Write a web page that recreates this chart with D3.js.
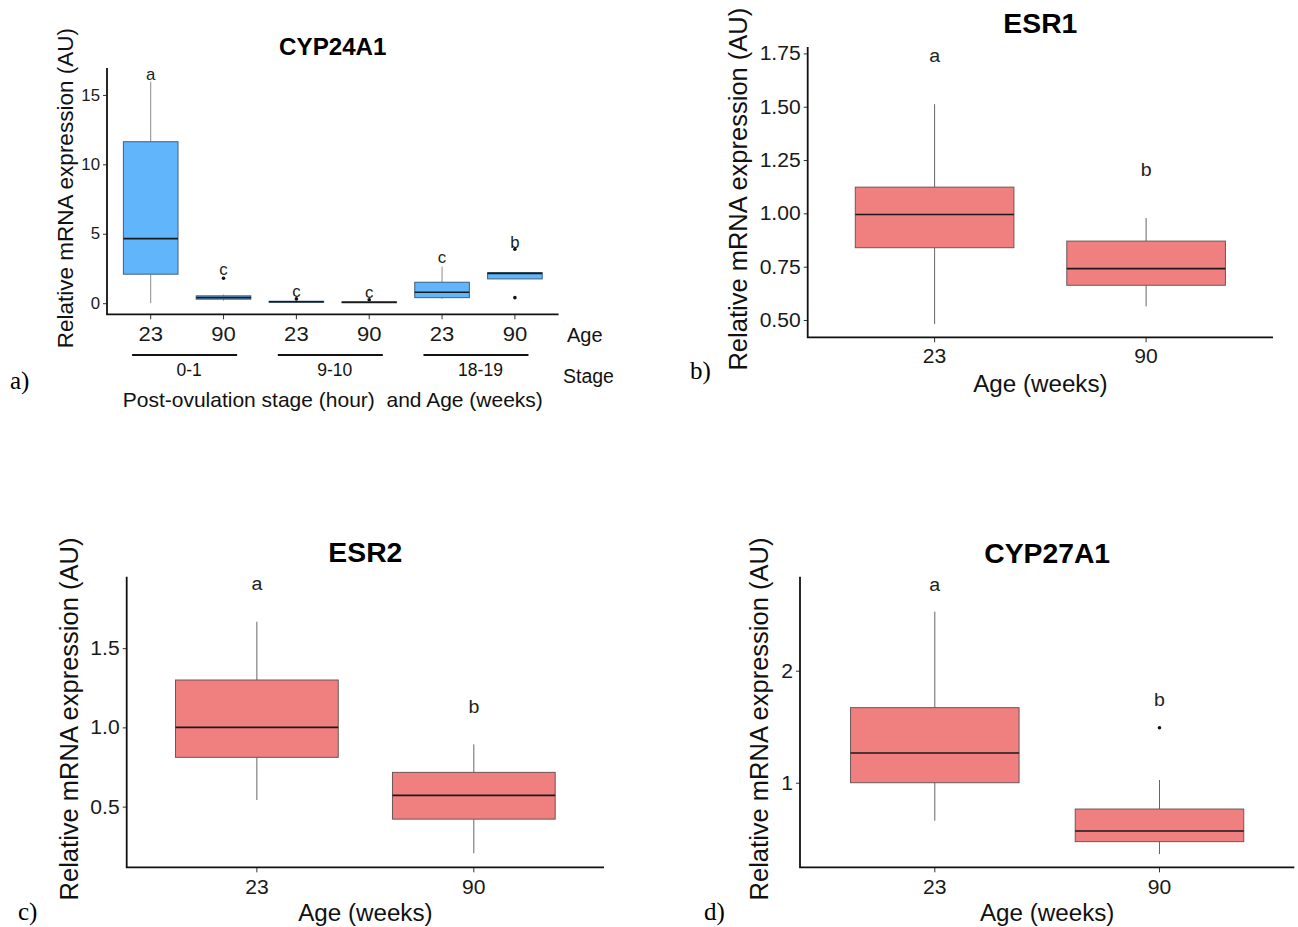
<!DOCTYPE html>
<html><head><meta charset="utf-8">
<script src="https://cdn.jsdelivr.net/npm/d3@7"></script>
<style>
body{margin:0;background:#fff}
svg{display:block}
text{font-family:Arial,"Liberation Sans",Helvetica,sans-serif}
</style>
</head><body>
<svg id="fig" width="1298" height="927"></svg>
<script>
// ---------- Panel a : CYP24A1 ----------
const cypA_ages = ["23","90","23","90","23","90"];
const cypA_stageOf = ["0-1","0-1","9-10","9-10","18-19","18-19"];
const cypA_stageLabels = ["0-1","9-10","18-19"];
const cypA_whiskerLow  = [0.00, 0.18, 0.05, 0.03, 0.31, 1.73];
const cypA_q1          = [2.09, 0.29, 0.08, 0.04, 0.40, 1.75];
const cypA_median      = [4.65, 0.40, 0.10, 0.07, 0.79, 2.15];
const cypA_q3          = [11.63, 0.53, 0.14, 0.10, 1.51, 2.20];
const cypA_whiskerHigh = [15.95, 0.62, 0.17, 0.12, 2.64, 2.22];
const cypA_outliers    = [[], [1.80], [0.31], [0.25], [], [3.89, 0.40]];
const cypA_letters     = ["a","c","c","c","c","b"];
const cypA_letterAt    = [16.08, 2.04, 0.45, 0.38, 2.88, 3.96];
const cypA_yTicks      = [0, 5, 10, 15];
const cypA_yDomain     = [-0.8, 16.94];

// ---------- Panel b : ESR1 ----------
const esr1_ages        = ["23","90"];
const esr1_whiskerLow  = [0.481, 0.564];
const esr1_q1          = [0.839, 0.663];
const esr1_median      = [0.995, 0.741];
const esr1_q3          = [1.123, 0.870];
const esr1_whiskerHigh = [1.512, 0.978];
const esr1_outliers    = [[], []];
const esr1_letters     = ["a","b"];
const esr1_letterAt    = [1.709, 1.173];
const esr1_yTicks      = [0.50, 0.75, 1.00, 1.25, 1.50, 1.75];
const esr1_yDomain     = [0.419, 1.78];

// ---------- Panel c : ESR2 ----------
const esr2_ages        = ["23","90"];
const esr2_whiskerLow  = [0.542, 0.206];
const esr2_q1          = [0.811, 0.421];
const esr2_median      = [1.000, 0.571];
const esr2_q3          = [1.299, 0.716];
const esr2_whiskerHigh = [1.667, 0.893];
const esr2_outliers    = [[], []];
const esr2_letters     = ["a","b"];
const esr2_letterAt    = [1.867, 1.088];
const esr2_yTicks      = [0.5, 1.0, 1.5];
const esr2_yDomain     = [0.117, 1.951];

// ---------- Panel d : CYP27A1 ----------
const cyp27_ages        = ["23","90"];
const cyp27_whiskerLow  = [0.661, 0.363];
const cyp27_q1          = [1.000, 0.474];
const cyp27_median      = [1.265, 0.569];
const cyp27_q3          = [1.670, 0.765];
const cyp27_whiskerHigh = [2.527, 1.024];
const cyp27_outliers    = [[], [1.491]];
const cyp27_letters     = ["a","b"];
const cyp27_letterAt    = [2.714, 1.685];
const cyp27_yTicks      = [1, 2];
const cyp27_yDomain     = [0.245, 2.839];

const yTitleText = "Relative mRNA expression (AU)";
const svg = d3.select("#fig");

function txt(g, x, y, s, o) {
  o = o || {};
  const t = g.append("text")
    .attr("transform", `translate(${x},${y}) rotate(${o.rotate||0}) scale(${o.sx||1},1)`)
    .attr("text-anchor", o.anchor || "middle")
    .attr("font-size", o.size || 16)
    .attr("font-weight", o.weight || "normal")
    .attr("fill", o.fill || "#111")
    .text(s);
  if (o.family) t.style("font-family", o.family);
  if (o.pre) t.style("white-space", "pre");
  return t;
}

function drawPanel(p) {
  const g = svg.append("g");
  const n = p.q1.length;
  const keys = d3.range(n).map(String);
  const x = d3.scaleBand().domain(keys).range([p.left, p.right])
    .paddingInner(0.25).paddingOuter(0.225);
  const y = d3.scaleLinear().domain(p.yDomain).range([p.bottom, p.top]);
  const cx = i => x(String(i)) + x.bandwidth() / 2;

  // boxes
  const boxes = g.append("g");
  d3.range(n).forEach(i => {
    boxes.append("line").attr("x1", cx(i)).attr("x2", cx(i))
      .attr("y1", y(p.whiskerLow[i])).attr("y2", y(p.q1[i]))
      .attr("stroke", p.whiskerColor).attr("stroke-width", 1);
    boxes.append("line").attr("x1", cx(i)).attr("x2", cx(i))
      .attr("y1", y(p.q3[i])).attr("y2", y(p.whiskerHigh[i]))
      .attr("stroke", p.whiskerColor).attr("stroke-width", 1);
    boxes.append("rect").attr("x", x(String(i))).attr("width", x.bandwidth())
      .attr("y", y(p.q3[i])).attr("height", Math.max(1, y(p.q1[i]) - y(p.q3[i])))
      .attr("fill", p.fill).attr("stroke", p.boxStroke).attr("stroke-width", 1);
    boxes.append("line").attr("x1", x(String(i))).attr("x2", x(String(i)) + x.bandwidth())
      .attr("y1", y(p.median[i])).attr("y2", y(p.median[i]))
      .attr("stroke", "#1a1a1a").attr("stroke-width", 1.6);
    p.outliers[i].forEach(v => {
      boxes.append("circle").attr("cx", cx(i)).attr("cy", y(v)).attr("r", 1.8).attr("fill", "#111");
    });
    txt(g, cx(i), y(p.letterAt[i]), p.letters[i], {size: p.letterSize, fill: "#222", sx: p.sx});
  });

  // axes
  const xAxis = g.append("g").attr("transform", `translate(0,${p.bottom})`)
    .call(d3.axisBottom(x).tickSize(5).tickPadding(p.xTickPad).tickFormat(k => p.ages[+k]));
  xAxis.select(".domain").remove();
  xAxis.selectAll(".tick line").attr("stroke", "#333");
  xAxis.selectAll(".tick text").attr("font-size", p.xTickSize).attr("fill", "#1a1a1a")
    .style("font-family", "Arial, 'Liberation Sans', sans-serif")
    .attr("transform", `scale(${p.sx},1)`);

  const yAxis = g.append("g").attr("transform", `translate(${p.left},0)`)
    .call(d3.axisLeft(y).tickValues(p.yTicks).tickSize(4).tickPadding(3).tickFormat(d3.format(p.yFormat)));
  yAxis.select(".domain").remove();
  yAxis.selectAll(".tick line").attr("stroke", "#333");
  yAxis.selectAll(".tick text").attr("font-size", p.yTickSize).attr("fill", "#1a1a1a")
    .style("font-family", "Arial, 'Liberation Sans', sans-serif")
    .attr("x", -7 / p.sx).attr("transform", `scale(${p.sx},1)`);

  // axis lines
  g.append("path")
    .attr("d", `M${p.left},${p.top}V${p.bottom}H${p.right}`)
    .attr("fill", "none").attr("stroke", "#111").attr("stroke-width", 1.8);

  // titles
  txt(g, (p.left + p.right) / 2, p.titleY, p.title, {size: p.titleSize, weight: "bold", fill: "#000", sx: p.sx});
  const bb = yAxis.node().getBBox();
  txt(g, p.left + bb.x - p.yTitleGap, (p.top + p.bottom) / 2 - 3, yTitleText,
      {size: p.yTitleSize, rotate: -90, fill: "#111"});
  if (p.xTitle) txt(g, (p.left + p.right) / 2, p.xTitleY, p.xTitle, {size: p.xTitleSize, fill: "#111", sx: p.sx, pre: true});
  txt(g, p.tagX, p.tagY, p.tag, {size: 25, anchor: "start", family: "'Liberation Serif','Times New Roman',serif", fill: "#000"});
  return {g, x, y, cx};
}

// Panel a
const A = drawPanel({
  left: 107, right: 558.6, top: 68, bottom: 314.3,
  ages: cypA_ages, whiskerLow: cypA_whiskerLow, q1: cypA_q1, median: cypA_median, q3: cypA_q3,
  whiskerHigh: cypA_whiskerHigh, outliers: cypA_outliers, letters: cypA_letters, letterAt: cypA_letterAt,
  yTicks: cypA_yTicks, yDomain: cypA_yDomain, yFormat: "d",
  fill: "#61B6FB", boxStroke: "#3d5f80", whiskerColor: "#8c8c8c",
  letterSize: 16, xTickSize: 21, xTickPad: 7, yTickSize: 16, sx: 1.05,
  title: "CYP24A1", titleSize: 23, titleY: 55,
  yTitleSize: 22.5, yTitleGap: 8,
  xTitle: "Post-ovulation stage (hour)  and Age (weeks)", xTitleY: 407, xTitleSize: 20,
  tag: "a)", tagX: 10, tagY: 389
});
// Age / Stage annotations for panel a
txt(A.g, 567, 342, "Age", {size: 20, anchor: "start", fill: "#111"});
txt(A.g, 563, 383, "Stage", {size: 19.5, anchor: "start", fill: "#111"});
cypA_stageLabels.forEach((s, j) => {
  const mid = (A.cx(2 * j) + A.cx(2 * j + 1)) / 2;
  A.g.append("line").attr("x1", mid - 55).attr("x2", mid + 50).attr("y1", 355).attr("y2", 355)
    .attr("stroke", "#111").attr("stroke-width", 2);
  txt(A.g, mid + 2, 376, s, {size: 17.5, fill: "#111"});
});

// Panel b
drawPanel({
  left: 807.7, right: 1273, top: 47, bottom: 337.3,
  ages: esr1_ages, whiskerLow: esr1_whiskerLow, q1: esr1_q1, median: esr1_median, q3: esr1_q3,
  whiskerHigh: esr1_whiskerHigh, outliers: esr1_outliers, letters: esr1_letters, letterAt: esr1_letterAt,
  yTicks: esr1_yTicks, yDomain: esr1_yDomain, yFormat: ".2f",
  fill: "#F08080", boxStroke: "#6e5555", whiskerColor: "#666",
  letterSize: 19, xTickSize: 20.5, xTickPad: 6, yTickSize: 20.5, sx: 1.03,
  title: "ESR1", titleSize: 27.5, titleY: 33,
  yTitleSize: 25.5, yTitleGap: 13,
  xTitle: "Age (weeks)", xTitleY: 392, xTitleSize: 23.5,
  tag: "b)", tagX: 690, tagY: 379
});

// Panel c
drawPanel({
  left: 126.7, right: 604, top: 576.7, bottom: 867.3,
  ages: esr2_ages, whiskerLow: esr2_whiskerLow, q1: esr2_q1, median: esr2_median, q3: esr2_q3,
  whiskerHigh: esr2_whiskerHigh, outliers: esr2_outliers, letters: esr2_letters, letterAt: esr2_letterAt,
  yTicks: esr2_yTicks, yDomain: esr2_yDomain, yFormat: ".1f",
  fill: "#F08080", boxStroke: "#6e5555", whiskerColor: "#666",
  letterSize: 19, xTickSize: 20.5, xTickPad: 7, yTickSize: 20.5, sx: 1.03,
  title: "ESR2", titleSize: 27.5, titleY: 562,
  yTitleSize: 25.5, yTitleGap: 12,
  xTitle: "Age (weeks)", xTitleY: 921, xTitleSize: 23.5,
  tag: "c)", tagX: 18, tagY: 920
});

// Panel d
drawPanel({
  left: 800, right: 1294.3, top: 576.7, bottom: 867.3,
  ages: cyp27_ages, whiskerLow: cyp27_whiskerLow, q1: cyp27_q1, median: cyp27_median, q3: cyp27_q3,
  whiskerHigh: cyp27_whiskerHigh, outliers: cyp27_outliers, letters: cyp27_letters, letterAt: cyp27_letterAt,
  yTicks: cyp27_yTicks, yDomain: cyp27_yDomain, yFormat: "d",
  fill: "#F08080", boxStroke: "#6e5555", whiskerColor: "#666",
  letterSize: 19, xTickSize: 20.5, xTickPad: 7, yTickSize: 20.5, sx: 1.03,
  title: "CYP27A1", titleSize: 27.5, titleY: 563,
  yTitleSize: 25.5, yTitleGap: 13,
  xTitle: "Age (weeks)", xTitleY: 921, xTitleSize: 23.5,
  tag: "d)", tagX: 704, tagY: 920
});
</script>
</body></html>
